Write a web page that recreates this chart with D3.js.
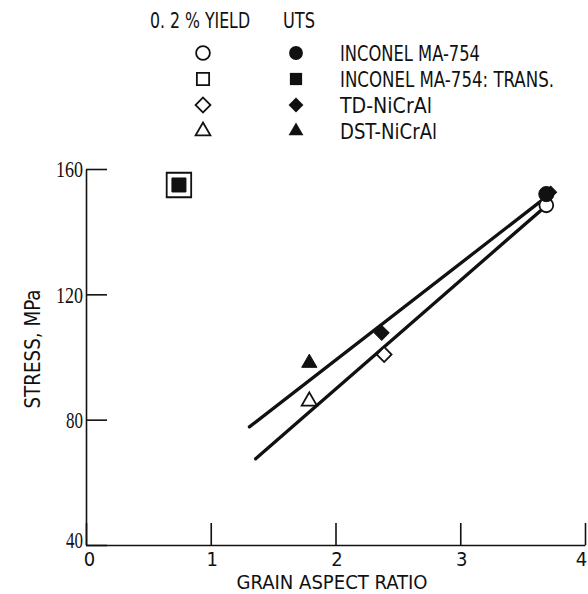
<!DOCTYPE html>
<html>
<head>
<meta charset="utf-8">
<script src="https://cdn.jsdelivr.net/npm/d3@7"></script>
<style>
  html, body { margin: 0; padding: 0; background: #fff; }
  svg { display: block; }
  .lbl { font-family: "Liberation Sans Narrow", "DejaVu Sans Condensed", "Liberation Sans", sans-serif; fill: #111; }
  .num { font-family: "Liberation Serif", "DejaVu Serif", serif; fill: #111; }
</style>
</head>
<body>
<svg id="chart"></svg>
<script>
// ===================== DADOS =====================
const alloys = ["INCONEL MA-754", "INCONEL MA-754: TRANS.", "TD-NiCrAl", "DST-NiCrAl"];
const shapes = ["circle", "square", "diamond", "triangle"];

// 0.2 % yield (open symbols): [alloy index, grain aspect ratio, stress MPa]
const yieldPoints = [
  [0, 3.69, 148.4],
  [1, 0.745, 154.9],
  [2, 2.39, 100.8],
  [3, 1.79, 85.9]
];

// UTS (filled symbols)
const utsPoints = [
  [2, 3.725, 152.6],
  [0, 3.69, 152.0],
  [1, 0.745, 154.9],
  [2, 2.37, 107.7],
  [3, 1.79, 98.1]
];

// linhas de ajuste
const utsFit = [[1.31, 77.7], [3.69, 151.1]];
const yieldFit = [[1.36, 67.5], [3.69, 148.3]];

const xTicks = [0, 1, 2, 3, 4];
const yTicks = [40, 80, 120, 160];

// ===================== SVG =====================
const width = 588;
const height = 594;

const svg = d3.select("#chart")
  .attr("width", width)
  .attr("height", height);

const x = d3.scaleLinear().domain([0, 4]).range([86, 585]);
const y = d3.scaleLinear().domain([40, 160]).range([545, 169]);

// símbolos
const symType = {
  circle: d3.symbolCircle,
  square: d3.symbolSquare,
  diamond: d3.symbolSquare,
  triangle: d3.symbolTriangle
};
function symPath(shape, size) {
  return d3.symbol().type(symType[shape]).size(size)();
}
function symTransform(shape, cx, cy) {
  return `translate(${cx},${cy})` + (shape === "diamond" ? " rotate(45)" : "");
}

// ===================== EIXOS =====================
const yAxis = svg.append("g")
  .attr("transform", `translate(${x(0)},0)`)
  .call(d3.axisLeft(y).tickValues(yTicks).tickSizeInner(-21).tickSizeOuter(0).tickPadding(3));
yAxis.select(".domain").attr("stroke", "#111").attr("stroke-width", 1.6);
yAxis.selectAll(".tick line").attr("stroke", "#111").attr("stroke-width", 1.6);
yAxis.selectAll(".tick text")
  .attr("class", "num")
  .attr("font-size", 24)
  .attr("dy", d => d === 40 ? "0.12em" : "0.33em")
  .attr("textLength", d => d >= 100 ? 27 : 17)
  .attr("lengthAdjust", "spacingAndGlyphs");
yAxis.attr("font-family", null).attr("font-size", null);

const xAxis = svg.append("g")
  .attr("transform", `translate(0,${y(40)})`)
  .call(d3.axisBottom(x).tickValues(xTicks).tickSizeInner(-22).tickSizeOuter(0).tickFormat(d3.format("d")));
xAxis.select(".domain").attr("stroke", "#111").attr("stroke-width", 1.6);
xAxis.selectAll(".tick line").attr("stroke", "#111").attr("stroke-width", 1.6);
xAxis.selectAll(".tick text")
  .attr("class", "lbl")
  .style("font-size", "20px")
  .attr("y", 21)
  .attr("dy", 0)
  .attr("dx", (d) => d === 4 ? -4 : (d === 0 ? 3 : 1));
xAxis.attr("font-family", null).attr("font-size", null);

// títulos dos eixos
svg.append("text")
  .attr("class", "lbl")
  .attr("x", 332)
  .attr("y", 589)
  .attr("text-anchor", "middle")
  .attr("font-size", 20)
  .attr("textLength", 191)
  .attr("lengthAdjust", "spacingAndGlyphs")
  .text("GRAIN ASPECT RATIO");

svg.append("text")
  .attr("class", "lbl")
  .attr("transform", "translate(40,349) rotate(-90)")
  .attr("text-anchor", "middle")
  .attr("font-size", 21)
  .attr("textLength", 119)
  .attr("lengthAdjust", "spacingAndGlyphs")
  .text("STRESS, MPa");

// ===================== LINHAS =====================
const line = d3.line().x(d => x(d[0])).y(d => y(d[1]));
svg.append("g")
  .selectAll("path")
  .data([utsFit, yieldFit])
  .join("path")
  .attr("d", line)
  .attr("fill", "none")
  .attr("stroke", "#111")
  .attr("stroke-width", 3.3)
  .attr("stroke-linecap", "round");

// ===================== PONTOS =====================
const plotSizes = { circle: 150, square: 196, diamond: 110, triangle: 100 };

// caixa aberta grande em volta do quadrado cheio (TRANS.)
svg.append("g")
  .selectAll("path")
  .data(yieldPoints)
  .join("path")
  .attr("d", d => symPath(shapes[d[0]], shapes[d[0]] === "square" ? 600 : plotSizes[shapes[d[0]]]))
  .attr("transform", d => symTransform(shapes[d[0]], x(d[1]), y(d[2])))
  .attr("fill", "#fff")
  .attr("stroke", "#111")
  .attr("stroke-width", 1.8);

svg.append("g")
  .selectAll("path")
  .data(utsPoints)
  .join("path")
  .attr("d", (d, i) => symPath(shapes[d[0]], shapes[d[0]] === "circle" ? 180 : (i === 0 ? 70 : plotSizes[shapes[d[0]]])))
  .attr("transform", d => symTransform(shapes[d[0]], x(d[1]), y(d[2])))
  .attr("fill", "#111")
  .attr("stroke", "#111")
  .attr("stroke-width", 1);

// ===================== LEGENDA =====================
const legendRowY = [53, 79, 105, 131];
const legendSizes = { circle: 150, square: 150, diamond: 110, triangle: 95 };
const legendTextLen = [140, 214, 92, 97];

svg.append("text")
  .attr("class", "lbl")
  .attr("x", 150).attr("y", 28)
  .attr("font-size", 21)
  .attr("textLength", 100)
  .attr("lengthAdjust", "spacingAndGlyphs")
  .text("0. 2 % YIELD");

svg.append("text")
  .attr("class", "lbl")
  .attr("x", 283).attr("y", 28)
  .attr("font-size", 21)
  .attr("textLength", 32)
  .attr("lengthAdjust", "spacingAndGlyphs")
  .text("UTS");

const legend = svg.append("g")
  .selectAll("g")
  .data(alloys)
  .join("g");

legend.append("path")
  .attr("d", (d, i) => symPath(shapes[i], legendSizes[shapes[i]]))
  .attr("transform", (d, i) => symTransform(shapes[i], 203, legendRowY[i]))
  .attr("fill", "#fff")
  .attr("stroke", "#111")
  .attr("stroke-width", 1.8);

legend.append("path")
  .attr("d", (d, i) => symPath(shapes[i], legendSizes[shapes[i]]))
  .attr("transform", (d, i) => symTransform(shapes[i], 296, legendRowY[i]))
  .attr("fill", "#111");

legend.append("text")
  .attr("class", "lbl")
  .attr("x", 340)
  .attr("y", (d, i) => legendRowY[i] + 8)
  .attr("font-size", 21)
  .attr("textLength", (d, i) => legendTextLen[i])
  .attr("lengthAdjust", "spacingAndGlyphs")
  .text(d => d);
</script>
</body>
</html>
